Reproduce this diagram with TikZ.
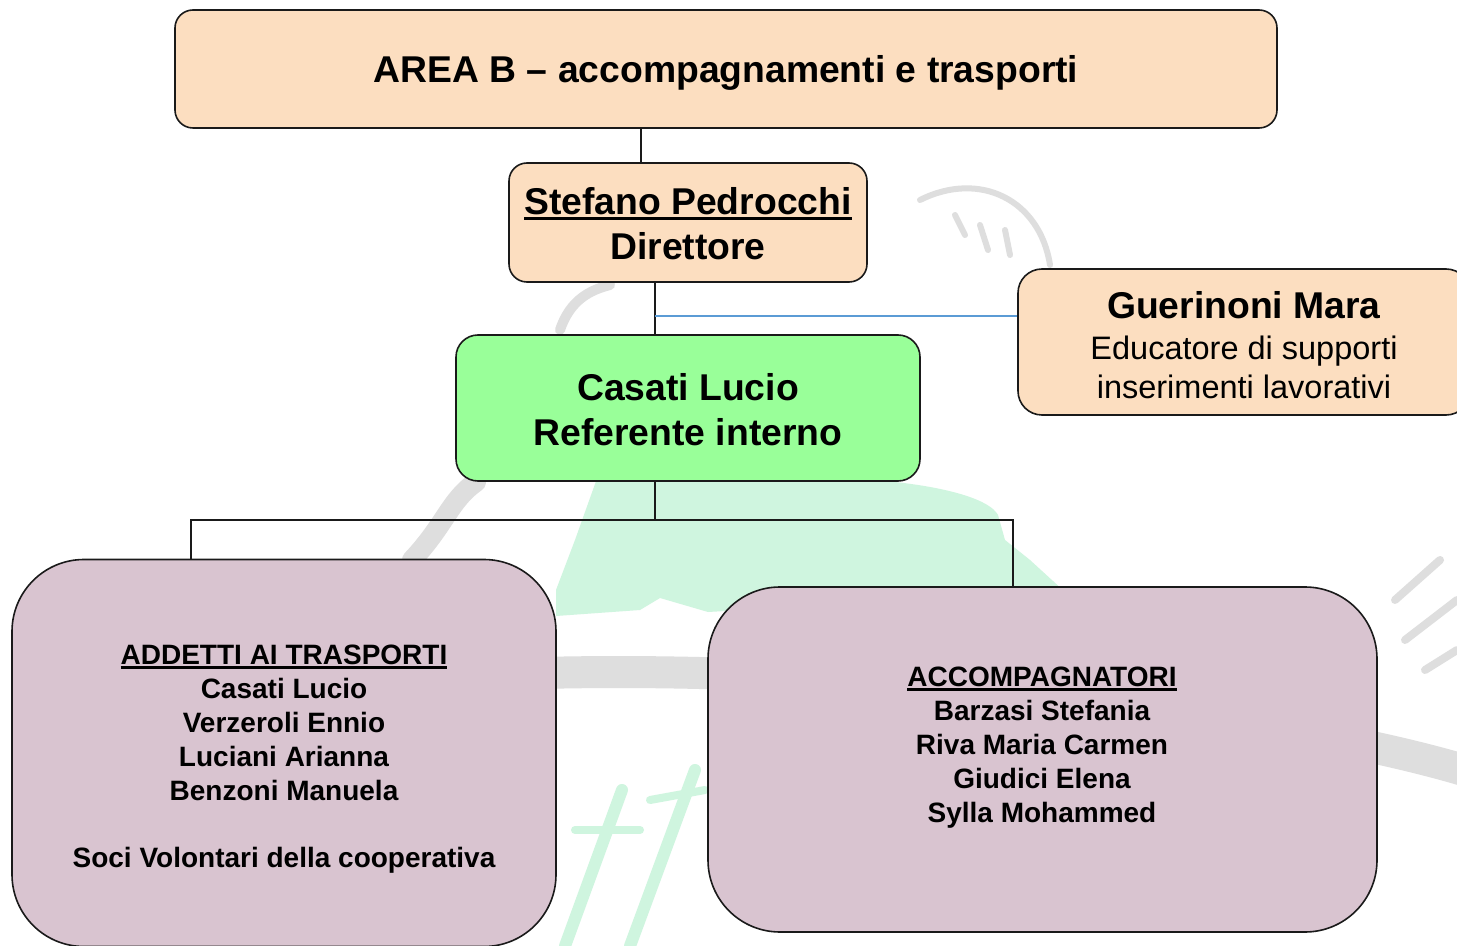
\documentclass[tikz,border=0pt]{standalone}
\usepackage{fontspec}
\setmainfont{Liberation Sans}
\usetikzlibrary{calc}
\definecolor{peach}{HTML}{FCDEC0}
\definecolor{lgreen}{HTML}{99FF99}
\definecolor{mauve}{HTML}{D9C4D0}
\definecolor{linkblue}{HTML}{5B9BD5}
\definecolor{edge}{HTML}{1A1A1A}
\definecolor{wmgrey}{HTML}{DEDEDE}
\definecolor{wmgreen}{HTML}{CFF5DF}
\newcommand{\myul}[1]{\setbox0\hbox{#1}\rlap{\rule[-0.13em]{\wd0}{0.075em}}\box0}
\tikzset{
  box/.style={draw=edge, line width=0.8pt, inner sep=0pt},
  txt/.style={align=center, inner sep=0pt},
  headfont/.style={font=\fontsize{18.65}{22.5}\selectfont\bfseries},
  bodyfont/.style={font=\fontsize{14}{16.9}\selectfont\bfseries},
  rolefont/.style={font=\fontsize{16.25}{19.5}\selectfont},
  conn/.style={draw=edge, line width=0.75pt},
  bluelink/.style={draw=linkblue, line width=0.6pt},
  wm/.style={line cap=round, line join=round}
}
\begin{document}
\begin{tikzpicture}[x=0.5pt, y=-0.5pt]
\useasboundingbox (0,0) rectangle (1457,946);
\fill[white] (0,0) rectangle (1457,946);
% faint background watermark
\fill[wmgreen] (600,470) -- (895,482) .. controls (950,488) and (990,500) .. (998,515) -- (1005,540) -- (1030,560) -- (1065,592) -- (708,612) -- (660,598) -- (640,610) -- (556,616) -- (556,590) -- (575,540) -- cycle;
\draw[wm, wmgrey, line width=10pt] (476,482) .. controls (450,500) and (445,525) .. (412,560);
\draw[wm, wmgrey, line width=16pt] (540,673) .. controls (900,664) and (1300,720) .. (1470,772);
\draw[wm, wmgreen, line width=6pt] (565,946) -- (622,790);
\draw[wm, wmgreen, line width=6pt] (630,946) -- (695,770);
\draw[wm, wmgreen, line width=4pt] (575,830) -- (640,830);
\draw[wm, wmgreen, line width=4pt] (650,800) -- (705,790);
\draw[wm, wmgrey, line width=4pt] (1395,600) -- (1440,560);
\draw[wm, wmgrey, line width=4pt] (1405,640) -- (1457,600);
\draw[wm, wmgrey, line width=4pt] (1425,670) -- (1457,650);
\draw[wm, wmgrey, line width=3pt] (920,200) .. controls (980,170) and (1040,200) .. (1050,265);
\draw[wm, wmgrey, line width=3pt] (955,215) -- (965,235);
\draw[wm, wmgrey, line width=3pt] (980,225) -- (988,250);
\draw[wm, wmgrey, line width=3pt] (1005,230) -- (1010,255);
\draw[wm, wmgrey, line width=5pt] (560,330) .. controls (570,300) and (590,290) .. (610,285);

% boxes
\node[box, fill=peach, rounded corners=9pt, minimum width=551pt, minimum height=59pt] (top) at (726,69) {};
\node[box, fill=peach, rounded corners=9pt, minimum width=179pt, minimum height=59.5pt] (ste) at (688,222.5) {};
\node[box, fill=lgreen, rounded corners=11pt, minimum width=232pt, minimum height=73pt] (cas) at (688,408) {};
\node[box, fill=peach, rounded corners=12pt, minimum width=226pt, minimum height=73pt] (gue) at (1244,342) {};
\node[box, fill=mauve, rounded corners=36pt, minimum width=272pt, minimum height=193.5pt] (left) at (284,753) {};
\node[box, fill=mauve, rounded corners=36pt, minimum width=334.5pt, minimum height=172.5pt] (right) at (1042.5,759.5) {};

% texts
\node[txt, headfont] (toptxt) at (726,73) {AREA B -- accompagnamenti e trasporti};
\node[txt, headfont] (stetxt) at (688,224) {\myul{Stefano Pedrocchi}\\Direttore};
\node[txt, headfont] (castxt) at (688,410) {Casati Lucio\\Referente interno};
\node[txt, rolefont] (guetxt) at (1244,345)
  {\textbf{\fontsize{18.65}{21}\selectfont Guerinoni Mara}\\[1pt]Educatore di supporti\\inserimenti lavorativi};
\node[txt, bodyfont, anchor=north] (lefttxt) at (284,645)
  {\myul{ADDETTI AI TRASPORTI}\\Casati Lucio\\Verzeroli Ennio\\Luciani Arianna\\Benzoni Manuela\\[16.9pt]Soci Volontari della cooperativa};
\node[txt, bodyfont, anchor=north] (righttxt) at (1042,667)
  {\myul{ACCOMPAGNATORI}\\Barzasi Stefania\\Riva Maria Carmen\\Giudici Elena\\Sylla Mohammed};

% connectors
\coordinate (tj) at (641,0);
\coordinate (cj) at (655,0);
\coordinate (bj) at (655,316);
\coordinate (hb) at (0,520);
\coordinate (lj) at (191,0);
\coordinate (rj) at (1013,0);
\draw[conn] (top.south -| tj) -- (ste.north -| tj);
\draw[conn] (ste.south -| cj) -- (cas.north -| cj);
\draw[bluelink] (bj) -- (bj -| gue.west);
\draw[conn] (cas.south -| cj) -- (cj |- hb);
\draw[conn] (left.north -| lj) -- (lj |- hb) -- (rj |- hb) -- (right.north -| rj);
\end{tikzpicture}
\end{document}
